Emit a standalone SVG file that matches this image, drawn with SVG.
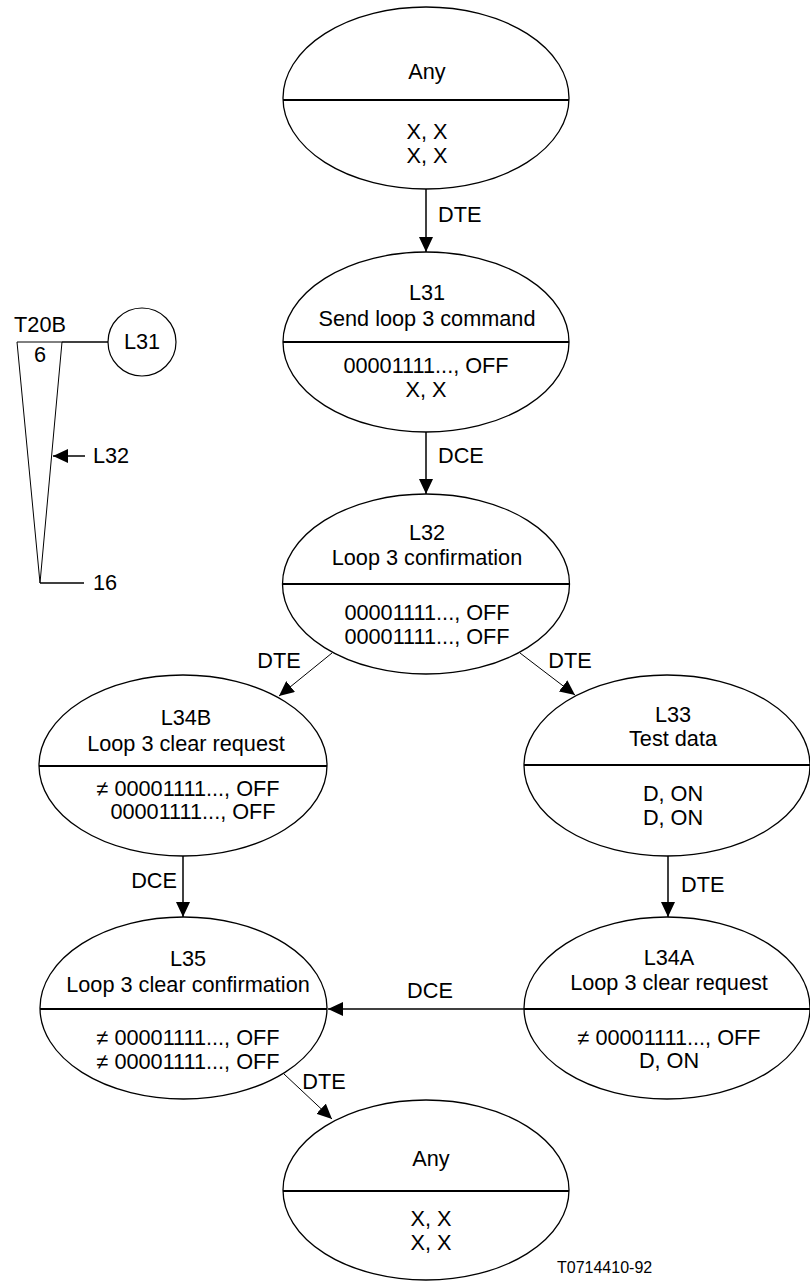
<svg xmlns="http://www.w3.org/2000/svg" width="810" height="1282" viewBox="0 0 810 1282">
<style>
text{font-family:"Liberation Sans",Arial,sans-serif;font-size:21.7px;fill:#000;text-anchor:middle}
.el{fill:#fff;stroke:#000;stroke-width:1.3}
.dv{stroke:#000;stroke-width:2.2}
.ar{stroke:#000;stroke-width:1.5;fill:none}
.ad{stroke:#000;stroke-width:1;fill:none}
.lb{text-anchor:start}
.le{text-anchor:end}
.sm{font-size:16px;text-anchor:start}
</style>
<defs>
<marker id="ah" markerUnits="userSpaceOnUse" markerWidth="16" markerHeight="14" refX="15" refY="7" orient="auto">
<path d="M0,0 L15,7 L0,14 Z" fill="#000"/>
</marker>
</defs>
<rect width="810" height="1282" fill="#fff"/>

<g id="connectors">
<line class="ar" x1="426" y1="189" x2="426" y2="252" marker-end="url(#ah)"/>
<text class="lb" x="438" y="222">DTE</text>
<line class="ar" x1="426" y1="432" x2="426" y2="494" marker-end="url(#ah)"/>
<text class="lb" x="438" y="463">DCE</text>
<line class="ad" x1="332" y1="653" x2="279" y2="696" marker-end="url(#ah)"/>
<text x="279" y="668">DTE</text>
<line class="ad" x1="520" y1="653" x2="575" y2="695" marker-end="url(#ah)"/>
<text x="570" y="668">DTE</text>
<line class="ar" x1="183" y1="856" x2="183" y2="917" marker-end="url(#ah)"/>
<text class="le" x="177" y="888">DCE</text>
<line class="ar" x1="668" y1="856" x2="668" y2="917" marker-end="url(#ah)"/>
<text class="lb" x="681" y="892">DTE</text>
<line class="ar" x1="524" y1="1009" x2="328" y2="1009" marker-end="url(#ah)"/>
<text x="430" y="998">DCE</text>
<line class="ad" x1="284" y1="1074" x2="332" y2="1119" marker-end="url(#ah)"/>
<text x="324" y="1089">DTE</text>
</g>

<g id="any-top">
<ellipse class="el" cx="426" cy="98" rx="143" ry="91"/>
<line class="dv" x1="283" y1="100" x2="569" y2="100"/>
<text x="427" y="79">Any</text>
<text x="427" y="139">X, X</text>
<text x="427" y="163">X, X</text>
</g>

<g id="L31">
<ellipse class="el" cx="426" cy="342" rx="143" ry="90"/>
<line class="dv" x1="283" y1="342" x2="569" y2="342"/>
<text x="427" y="300">L31</text>
<text x="427" y="326">Send loop 3 command</text>
<text x="426" y="373">00001111..., OFF</text>
<text x="426" y="397">X, X</text>
</g>

<g id="L32">
<ellipse class="el" cx="426" cy="584" rx="143.5" ry="90"/>
<line class="dv" x1="282" y1="584" x2="569" y2="584"/>
<text x="427" y="540">L32</text>
<text x="427" y="565">Loop 3 confirmation</text>
<text x="427" y="620">00001111..., OFF</text>
<text x="427" y="644">00001111..., OFF</text>
</g>

<g id="L34B">
<ellipse class="el" cx="183" cy="765.5" rx="144" ry="90.5"/>
<line class="dv" x1="39" y1="766" x2="327" y2="766"/>
<text x="186" y="725">L34B</text>
<text x="186" y="751">Loop 3 clear request</text>
<text x="188" y="796">≠ 00001111..., OFF</text>
<text x="193" y="819">00001111..., OFF</text>
</g>

<g id="L33">
<ellipse class="el" cx="667" cy="765.5" rx="143" ry="90.5"/>
<line class="dv" x1="524" y1="765" x2="810" y2="765"/>
<text x="673" y="722">L33</text>
<text x="673" y="746">Test data</text>
<text x="673" y="801">D, ON</text>
<text x="673" y="825">D, ON</text>
</g>

<g id="L35">
<ellipse class="el" cx="183.5" cy="1008" rx="143.5" ry="91"/>
<line class="dv" x1="40" y1="1009" x2="327" y2="1009"/>
<text x="188" y="966">L35</text>
<text x="188" y="992">Loop 3 clear confirmation</text>
<text x="188" y="1045">≠ 00001111..., OFF</text>
<text x="188" y="1069">≠ 00001111..., OFF</text>
</g>

<g id="L34A">
<ellipse class="el" cx="667" cy="1008" rx="143" ry="91"/>
<line class="dv" x1="524" y1="1009" x2="810" y2="1009"/>
<text x="669" y="965">L34A</text>
<text x="669" y="990">Loop 3 clear request</text>
<text x="669" y="1045">≠ 00001111..., OFF</text>
<text x="669" y="1068">D, ON</text>
</g>

<g id="any-bottom">
<ellipse class="el" cx="426" cy="1190" rx="143" ry="90"/>
<line class="dv" x1="283" y1="1191" x2="569" y2="1191"/>
<text x="431" y="1166">Any</text>
<text x="431" y="1226">X, X</text>
<text x="431" y="1250">X, X</text>
</g>

<g id="timer">
<polygon points="17,342 62,342 40,583" fill="none" stroke="#000" stroke-width="1"/>
<line x1="62" y1="342" x2="108" y2="342" stroke="#000" stroke-width="1.5"/>
<circle cx="142" cy="342" r="34" fill="#fff" stroke="#000" stroke-width="1.2"/>
<text x="142" y="349">L31</text>
<text x="40" y="332">T20B</text>
<text x="40" y="362">6</text>
<line class="ar" x1="85" y1="456" x2="53" y2="456" marker-end="url(#ah)"/>
<text class="lb" x="93" y="463">L32</text>
<line x1="40" y1="583" x2="84" y2="583" stroke="#000" stroke-width="1.5"/>
<text class="lb" x="93" y="590">16</text>
</g>

<text class="sm" x="557" y="1273">T0714410-92</text>
</svg>
